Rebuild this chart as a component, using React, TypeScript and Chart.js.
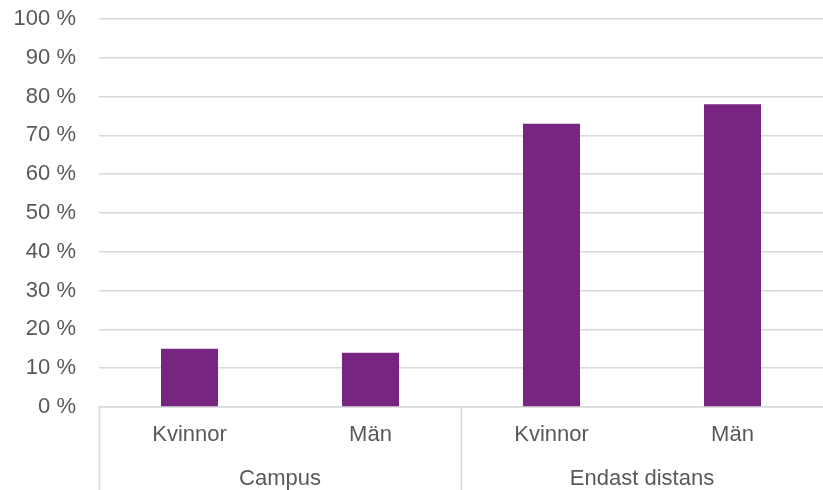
import React, { useEffect, useRef } from "react";
import { Chart, registerables } from "chart.js";

Chart.register(...registerables);

// Shares per study form and gender (%)
const groups = ["Campus", "Endast distans"];
const subLabels = ["Kvinnor", "Män", "Kvinnor", "Män"];
const shares = [15, 14, 73, 78];
const yTicks = [0, 10, 20, 30, 40, 50, 60, 70, 80, 90, 100];

const FONT = "'Liberation Sans', Arial, sans-serif";
const TEXT = "#595959";
const GRID = "#d9d9d9";
const BAR = "#772581";

// Draws the second label row (groups) and the separators between groups
const groupAxisPlugin = {
  id: "groupAxis",
  afterDraw(chart: any) {
    const { ctx, scales, height } = chart;
    const x = scales.x;
    const per = subLabels.length / groups.length;
    const step = (x.right - x.left) / subLabels.length;
    ctx.save();
    ctx.strokeStyle = GRID;
    ctx.lineWidth = 1.5;
    for (let g = 0; g < groups.length; g++) {
      const px = Math.round(x.left + g * per * step) + 0.5;
      ctx.beginPath();
      ctx.moveTo(px, x.top);
      ctx.lineTo(px, height);
      ctx.stroke();
    }
    ctx.fillStyle = TEXT;
    ctx.font = `22px ${FONT}`;
    ctx.textAlign = "center";
    ctx.textBaseline = "middle";
    groups.forEach((name, g) => {
      const first = x.getPixelForValue(g * per);
      const last = x.getPixelForValue(g * per + per - 1);
      ctx.fillText(name, (first + last) / 2, x.top + 72);
    });
    ctx.restore();
  },
};

export default function App() {
  const ref = useRef<HTMLCanvasElement | null>(null);

  useEffect(() => {
    if (!ref.current) return;
    const chart = new Chart(ref.current, {
      type: "bar",
      data: {
        labels: subLabels,
        datasets: [
          {
            data: shares,
            backgroundColor: BAR,
            categoryPercentage: 1,
            barPercentage: 0.315,
          },
        ],
      },
      options: {
        animation: false,
        responsive: false,
        maintainAspectRatio: false,
        layout: { padding: { top: 19, right: 0, left: 0, bottom: 0 } },
        plugins: { legend: { display: false }, tooltip: { enabled: false } },
        scales: {
          x: {
            grid: { display: false, drawTicks: false },
            border: { display: true, color: GRID, width: 1.5 },
            ticks: {
              color: TEXT,
              font: { family: FONT, size: 22 },
              padding: 15,
              maxRotation: 0,
              autoSkip: false,
            },
            afterFit(scale: any) {
              scale.height = 83;
              scale.paddingLeft = 0;
              scale.paddingRight = 0;
            },
          },
          y: {
            min: 0,
            max: 100,
            afterBuildTicks(scale: any) {
              scale.ticks = yTicks.map((v) => ({ value: v }));
            },
            grid: { color: GRID, lineWidth: 1.5, drawTicks: false },
            border: { display: false },
            ticks: {
              color: TEXT,
              font: { family: FONT, size: 22 },
              padding: 23,
              callback: (v: any) => `${v} %`,
            },
            afterFit(scale: any) {
              scale.width = 99;
              scale.paddingTop = 0;
              scale.paddingBottom = 0;
            },
          },
        },
      },
      plugins: [groupAxisPlugin],
    });
    return () => chart.destroy();
  }, []);

  return (
    <div style={{ position: "fixed", left: 0, top: 0, width: 823, height: 490, background: "#fff" }}>
      <canvas ref={ref} width={823} height={490} />
    </div>
  );
}
